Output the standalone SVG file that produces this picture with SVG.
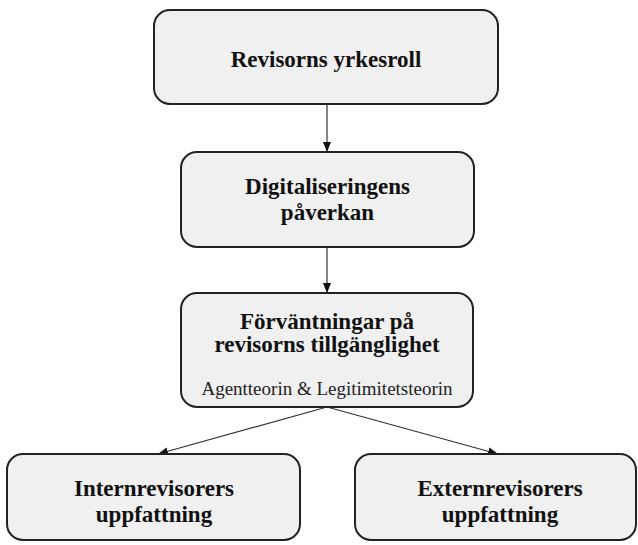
<svg xmlns="http://www.w3.org/2000/svg" width="638" height="545" viewBox="0 0 638 545">
<style>
.box{fill:#f0f0f0;stroke:#222;stroke-width:2}
.t{font-family:"Liberation Serif","Times New Roman",serif;font-weight:bold;font-size:23px;fill:#111;text-anchor:middle}
.s{font-family:"Liberation Serif","Times New Roman",serif;font-size:19px;fill:#222;text-anchor:middle}
.c{stroke:#333;stroke-width:1.2;fill:none;marker-end:url(#ah)}
</style>
<defs>
<marker id="ah" viewBox="0 0 10 10" refX="10" refY="5" markerWidth="10" markerHeight="10" markerUnits="userSpaceOnUse" orient="auto">
<path d="M0,1 L10,5 L0,9 Z" fill="#111"/>
</marker>
</defs>
<g id="connectors">
<line class="c" x1="327" y1="104" x2="327" y2="152"/>
<line class="c" x1="327" y1="247" x2="327" y2="293"/>
<line class="c" x1="327" y1="407" x2="158" y2="454"/>
<line class="c" x1="327" y1="407" x2="498" y2="454"/>
</g>
<g id="n1">
<rect class="box" x="154" y="10" width="344" height="94" rx="16"/>
<text class="t" x="326" y="67">Revisorns yrkesroll</text>
</g>
<g id="n2">
<rect class="box" x="181" y="152" width="293" height="95" rx="16"/>
<text class="t" x="327.5" y="194">Digitaliseringens</text>
<text class="t" x="327.5" y="220">påverkan</text>
</g>
<g id="n3">
<rect class="box" x="181" y="293" width="292" height="114" rx="16"/>
<text class="t" x="327" y="329">Förväntningar på</text>
<text class="t" x="327" y="352">revisorns tillgänglighet</text>
<text class="s" x="327" y="395">Agentteorin &amp; Legitimitetsteorin</text>
</g>
<g id="n4">
<rect class="box" x="7" y="454" width="293" height="86" rx="16"/>
<text class="t" x="154" y="496">Internrevisorers</text>
<text class="t" x="154" y="522">uppfattning</text>
</g>
<g id="n5">
<rect class="box" x="355" y="454" width="281" height="86" rx="16"/>
<text class="t" x="500" y="496">Externrevisorers</text>
<text class="t" x="500" y="522">uppfattning</text>
</g>
</svg>
